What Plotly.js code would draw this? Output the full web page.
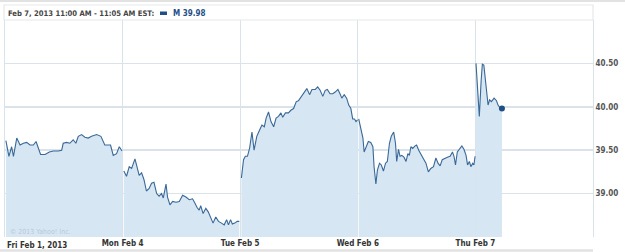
<!DOCTYPE html>
<html>
<head>
<meta charset="utf-8">
<script src="https://cdn.plot.ly/plotly-3.0.1.min.js"></script>
<style>
html,body{margin:0;padding:0;background:#fff;}
#chart{width:625px;height:252px;}
</style>
</head>
<body>
<div id="chart"></div>
<script>
// Day labels (x axis)
const dayLabels = ["Fri Feb 1, 2013", "Mon Feb 4", "Tue Feb 5", "Wed Feb 6", "Thu Feb 7"];
// Y-axis ticks
const yTickVals = [39.0, 39.5, 40.0, 40.5];
const yTickText = ["39.00", "39.50", "40.00", "40.50"];

// Minutes after 9:30 open and prices, one pair of arrays per trading day
const friTimes = [3,13,22,28,39,50,61,72,83,94,103,110,118,133,147,160,177,188,193,204,215,226,235,243,254,265,276,287,304,318,331,342,350,359,370,379,388];
const friPrices = [39.61,39.43,39.54,39.43,39.64,39.56,39.58,39.59,39.56,39.56,39.60,39.52,39.45,39.45,39.48,39.49,39.49,39.50,39.58,39.59,39.58,39.62,39.58,39.66,39.68,39.65,39.64,39.66,39.68,39.66,39.56,39.56,39.56,39.44,39.46,39.54,39.49];

const monTimes = [4,13,22,30,41,49,55,63,71,79,88,96,104,113,121,129,135,144,149,157,166,177,188,199,210,221,232,240,247,254,259,267,276,284,292,300,309,318,328,337,345,351,358,364,372,380,387];
const monPrices = [39.26,39.20,39.31,39.29,39.40,39.29,39.21,39.24,39.16,39.03,39.06,39.12,39.13,39.00,38.97,39.00,38.95,39.11,38.96,38.87,38.91,38.90,38.91,38.98,38.96,38.93,38.94,38.89,38.84,38.81,38.86,38.77,38.83,38.79,38.73,38.66,38.73,38.68,38.66,38.64,38.70,38.64,38.70,38.65,38.66,38.68,38.68];

const tueTimes = [4,11,17,24,31,39,46,55,64,72,80,86,94,102,111,119,127,135,141,150,160,168,177,186,193,202,212,221,230,238,249,257,265,274,282,289,298,307,315,324,331,337,345,353,360,367,373,379,384,389];
const tuePrices = [39.18,39.39,39.43,39.43,39.52,39.71,39.50,39.66,39.73,39.79,39.77,39.87,39.94,39.83,39.77,39.87,39.89,39.93,39.88,39.93,39.93,39.96,39.98,40.06,40.07,40.12,40.17,40.21,40.14,40.20,40.20,40.23,40.19,40.12,40.19,40.20,40.15,40.15,40.17,40.20,40.15,40.10,40.14,40.10,40.02,39.98,39.86,39.86,39.83,39.85];

const wedTimes = [3,8,12,17,21,28,35,43,50,54,60,65,72,78,85,92,98,105,111,119,125,129,135,140,146,153,160,166,171,176,182,190,195,202,209,218,226,234,242,251,259,266,273,280,289,297,306,314,319,324,330,337,345,352,359,364,370,375,381,385,389];
const wedPrices = [39.86,39.77,39.73,39.64,39.48,39.54,39.60,39.59,39.54,39.31,39.11,39.27,39.35,39.33,39.26,39.35,39.37,39.58,39.66,39.71,39.58,39.37,39.51,39.43,39.44,39.42,39.37,39.46,39.44,39.54,39.52,39.55,39.56,39.50,39.46,39.41,39.35,39.25,39.29,39.31,39.41,39.35,39.32,39.39,39.41,39.42,39.43,39.48,39.43,39.33,39.48,39.52,39.55,39.51,39.44,39.33,39.37,39.31,39.35,39.33,39.43];

const thuTimes = [2,8,13,19,23,28,33,37,42,47,53,62,70,75,81,88];
const thuPrices = [40.50,40.20,39.89,40.30,40.49,40.48,40.30,40.12,40.02,40.08,40.06,40.10,40.07,40.02,39.99,39.98];

const sessionMinutes = 390;
const days = [
  [friTimes, friPrices],
  [monTimes, monPrices],
  [tueTimes, tuePrices],
  [wedTimes, wedPrices],
  [thuTimes, thuPrices]
];

const lineColor = "#3a6897";
const fillColor = "#d6e6f2";
const gridColor = "#dbe3ea";
const fontFam = "'DejaVu Sans Condensed', 'DejaVu Sans', sans-serif";

const traces = days.map(([t, p], d) => ({
  type: "scatter",
  mode: "lines",
  x: t.map(m => d + m / sessionMinutes),
  y: p,
  fill: "tozeroy",
  fillcolor: fillColor,
  line: {color: lineColor, width: 1.1},
  hoverinfo: "skip",
  showlegend: false
}));

// last-price dot
traces.push({
  type: "scatter",
  mode: "markers",
  x: [4 + thuTimes[thuTimes.length - 1] / sessionMinutes],
  y: [thuPrices[thuPrices.length - 1]],
  marker: {color: "#1f4f86", size: 6},
  showlegend: false,
  hoverinfo: "skip"
});

const plotL = 5, plotR = 593, plotT = 20, plotB = 237;
const pw = plotR - plotL, ph = plotB - plotT;
const px = v => (v - plotL) / pw;       // pixel x -> paper
const py = v => (plotB - v) / ph;       // pixel y -> paper

const layout = {
  width: 625, height: 252,
  margin: {l: plotL, r: 625 - plotR, t: plotT, b: 252 - plotB, pad: 0},
  paper_bgcolor: "#fff",
  plot_bgcolor: "#fff",
  showlegend: false,
  xaxis: {
    range: [0, 5],
    tickvals: [1, 2, 3, 4],
    ticktext: dayLabels.slice(1),
    showgrid: true, gridcolor: gridColor, gridwidth: 1,
    zeroline: false, showline: false, ticks: "",
    tickfont: {family: fontFam, size: 8, color: "#333", weight: "bold"},
    fixedrange: true
  },
  yaxis: {
    side: "right",
    range: [38.5, 41.0],
    tickvals: yTickVals,
    ticktext: yTickText,
    showgrid: true, gridcolor: gridColor, gridwidth: 1.5,
    zeroline: false, showline: true, mirror: true, linecolor: gridColor, linewidth: 1,
    ticks: "",
    tickfont: {family: fontFam, size: 8, color: "#555", weight: "bold"},
    fixedrange: true
  },
  shapes: [
    // top rule across page
    {type: "line", xref: "paper", yref: "paper", x0: px(0), x1: px(625), y0: py(1), y1: py(1),
     line: {color: "#e2e2e2", width: 2}},
    // header box
    {type: "rect", xref: "paper", yref: "paper", x0: px(4), x1: px(593), y0: py(20), y1: py(5),
     line: {color: "#e4e8ec", width: 1.2}, fillcolor: "rgba(0,0,0,0)"},
    // legend swatch
    {type: "rect", xref: "paper", yref: "paper", x0: px(160), x1: px(167), y0: py(15), y1: py(11.5),
     line: {width: 0}, fillcolor: "#1f4f86"},
    // bottom band
    {type: "line", xref: "paper", yref: "paper", x0: px(0), x1: px(593), y0: py(250.5), y1: py(250.5),
     line: {color: "#e2e2e2", width: 2.5}}
  ],
  annotations: [
    {xref: "paper", yref: "paper", x: px(6), y: py(13), xanchor: "left", yanchor: "middle",
     text: "Feb 7, 2013 11:00 AM - 11:05 AM EST:", showarrow: false,
     font: {family: fontFam, size: 7.6, color: "#444", weight: "bold"}},
    {xref: "paper", yref: "paper", x: px(171), y: py(13), xanchor: "left", yanchor: "middle",
     text: "M 39.98", showarrow: false,
     font: {family: fontFam, size: 8, color: "#1f4f86", weight: "bold"}},
    {xref: "x", yref: "paper", x: 0, y: py(245), xanchor: "left", yanchor: "middle",
     xshift: 0, text: dayLabels[0], showarrow: false,
     font: {family: fontFam, size: 8, color: "#333", weight: "bold"}},
    {xref: "paper", yref: "paper", x: px(8), y: py(232), xanchor: "left", yanchor: "middle",
     text: "© 2013 Yahoo! Inc.", showarrow: false,
     font: {family: fontFam, size: 7, color: "#b9c9d6"}}
  ]
};

Plotly.newPlot("chart", traces, layout, {staticPlot: true, displayModeBar: false});
</script>
</body>
</html>
